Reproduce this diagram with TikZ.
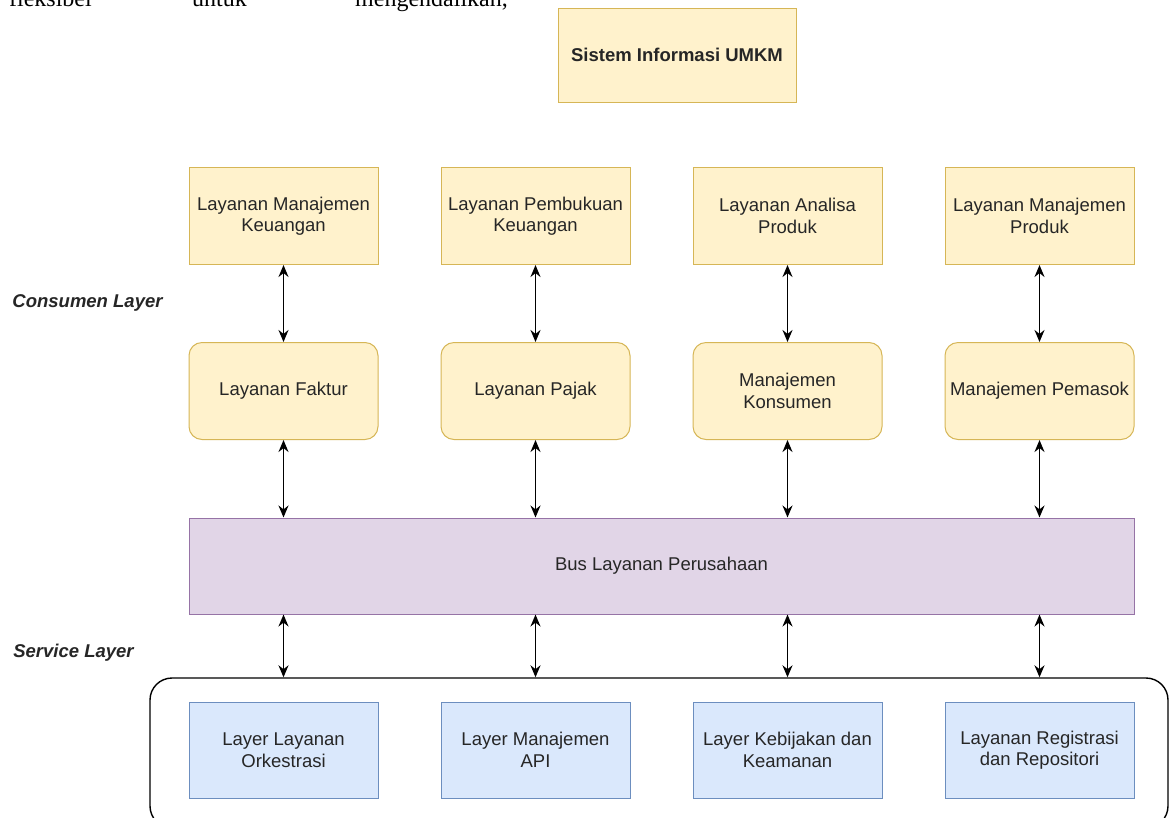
\documentclass[tikz,border=0pt]{standalone}
\usepackage{fontspec}
\setmainfont{Liberation Sans}
\newfontfamily\serifdoc{Liberation Serif}
\usetikzlibrary{arrows.meta,calc}
\definecolor{yfill}{HTML}{FFF2CC}
\definecolor{ydraw}{HTML}{D6B656}
\definecolor{pfill}{HTML}{E1D5E7}
\definecolor{pdraw}{HTML}{9673A6}
\definecolor{bfill}{HTML}{DAE8FC}
\definecolor{bdraw}{HTML}{6C8EBF}
\definecolor{txt}{HTML}{262626}
\tikzset{
  lbl/.style={font=\fontsize{18.5}{21.5}\selectfont, text=txt, align=center, inner sep=0pt},
  ybox/.style={lbl, draw=ydraw, fill=yfill, line width=1pt, minimum width=189pt, minimum height=97pt},
  yround/.style={ybox, rounded corners=13pt},
  bbox/.style={lbl, draw=bdraw, fill=bfill, line width=1pt, minimum width=189pt, minimum height=96pt},
  busbox/.style={lbl, draw=pdraw, fill=pfill, line width=1pt, minimum width=945pt, minimum height=96pt},
  contbox/.style={draw=black, line width=1.4pt, fill=white, rounded corners=22pt, minimum width=1018pt, minimum height=150pt, inner sep=0pt},
  layerlbl/.style={font=\fontsize{18.5}{22}\selectfont\bfseries\itshape, text=txt, inner sep=0pt},
  conn/.style={line width=1.7pt, {Stealth[length=12pt,width=10pt]}-{Stealth[length=12pt,width=10pt]}},
  doctext/.style={font=\serifdoc\fontsize{24}{28}\selectfont, inner sep=0pt}
}
\begin{document}
\begin{tikzpicture}[x=1pt,y=-1pt]
\useasboundingbox (0,0) rectangle (1169,817);
\clip (0,0) rectangle (1169,817);
\fill[white] (0,0) rectangle (1169,817);

% fragment of the surrounding document text (cut off at the top, as in the reference)
\node[doctext, anchor=base east] (w1) at (92,6) {fleksibel};
\node[doctext, anchor=base west] (w2) at (192,6) {untuk};
\node[doctext, anchor=base west] (w3) at (355,6) {mengendalikan,};

% title
\node[lbl, draw=ydraw, fill=yfill, line width=1pt, minimum width=238pt, minimum height=94pt, font=\fontsize{18.5}{21.5}\selectfont\bfseries] (top) at (677,55) {Sistem Informasi UMKM};

% row 1
\node[ybox] (a1) at (283.5,216) {Layanan Manajemen\\Keuangan};
\node[ybox] (a2) at (535.5,216) {Layanan Pembukuan\\Keuangan};
\node[ybox] (a3) at (787.5,216) {Layanan Analisa\\Produk};
\node[ybox] (a4) at (1039.5,216) {Layanan Manajemen\\Produk};

% row 2
\node[yround] (b1) at (283.5,391) {Layanan Faktur};
\node[yround] (b2) at (535.5,391) {Layanan Pajak};
\node[yround] (b3) at (787.5,391) {Manajemen\\Konsumen};
\node[yround] (b4) at (1039.5,391) {Manajemen Pemasok};

% bus
\node[busbox] (bus) at (661.5,566) {Bus Layanan Perusahaan};

% container
\node[contbox] (cont) at (659,753) {};

% bottom row
\node[bbox] (c1) at (283.5,750) {Layer Layanan\\Orkestrasi};
\node[bbox] (c2) at (535.5,750) {Layer Manajemen\\API};
\node[bbox] (c3) at (787.5,750) {Layer Kebijakan dan\\Keamanan};
\node[bbox] (c4) at (1039.5,750) {Layanan Registrasi\\dan Repositori};

% layer labels
\node[layerlbl] (cl) at (87.5,303) {Consumen Layer};
\node[layerlbl] (sl) at (73.5,653) {Service Layer};

% connectors
\foreach \i in {1,2,3,4}{
  \draw[conn] (a\i.south) -- (b\i.north);
  \draw[conn] (b\i.south) -- (b\i.south |- bus.north);
  \draw[conn] (b\i.south |- bus.south) -- (b\i.south |- cont.north);
}
\end{tikzpicture}
\end{document}
